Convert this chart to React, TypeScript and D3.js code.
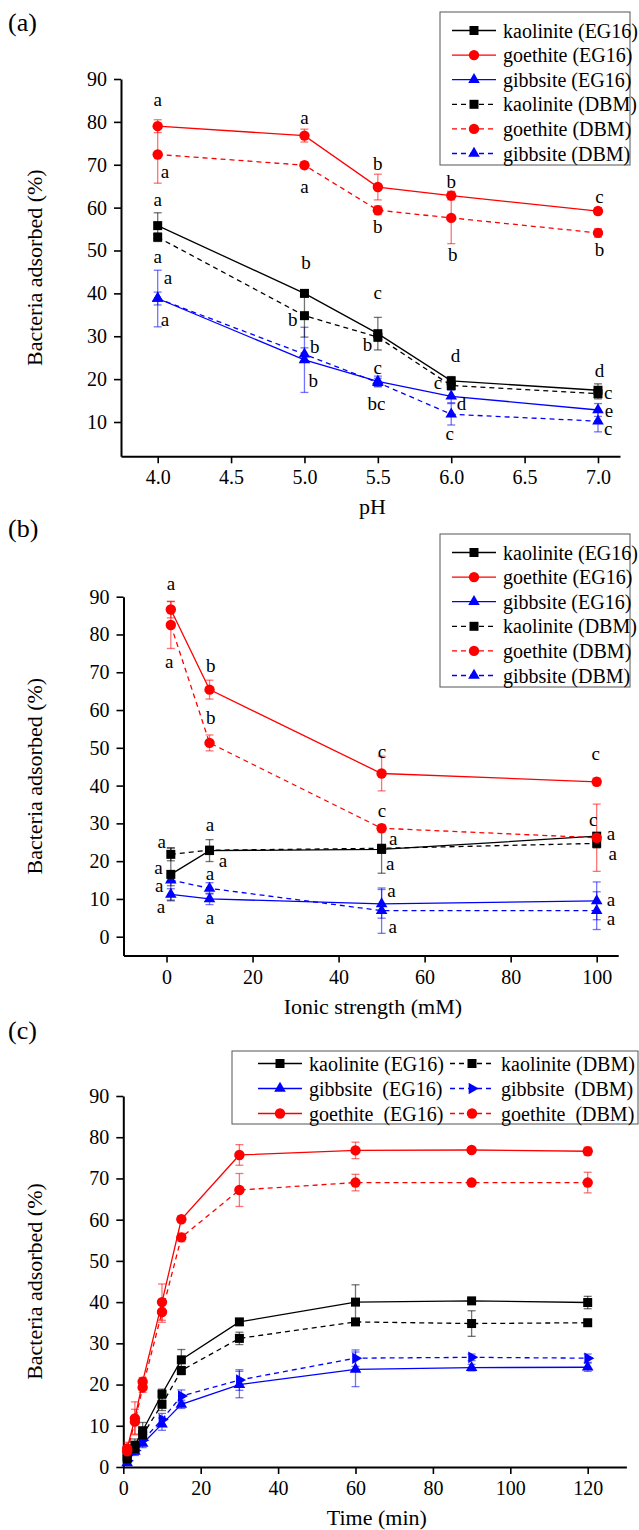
import React, { useEffect, useRef } from "react";
import * as d3 from "d3";

// ---------- panel (a): effect of pH ----------
const phLevels = [4.0, 5.0, 5.5, 6.0, 7.0];
const phTicks = [4.0, 4.5, 5.0, 5.5, 6.0, 6.5, 7.0];
const phKaoEG = [55.8, 40.0, 30.6, 19.6, 17.4];
const phKaoEGErr = [3.0, 0.8, 3.8, 1.0, 1.5];
const phGoeEG = [79.0, 76.8, 64.8, 62.8, 59.2];
const phGoeEGErr = [1.5, 1.5, 3.0, 1.0, 0.8];
const phGibEG = [38.8, 24.5, 19.5, 16.0, 12.8];
const phGibEGErr = [6.6, 7.6, 1.2, 1.5, 1.5];
const phKaoDBM = [53.1, 34.8, 29.8, 18.5, 16.6];
const phKaoDBMErr = [1.0, 5.0, 1.0, 1.0, 1.2];
const phGoeDBM = [72.4, 69.9, 59.4, 57.6, 54.1];
const phGoeDBMErr = [6.7, 0.8, 1.0, 6.0, 1.0];
const phGibDBM = [38.8, 25.8, 19.2, 11.8, 10.2];
const phGibDBMErr = [1.5, 1.5, 1.0, 2.5, 2.5];
const phLetters: [number, number, string][] = [
  [4.0, 85.3, "a"], [5.0, 81.1, "a"], [5.5, 70.4, "b"], [6.0, 66.2, "b"], [7.01, 62.5, "c"],
  [4.05, 68.5, "a"], [5.0, 65.0, "a"], [5.5, 55.7, "b"], [6.01, 49.0, "b"], [7.01, 50.3, "b"],
  [4.0, 61.8, "a"], [4.0, 48.7, "a"], [4.07, 43.8, "a"], [4.05, 33.8, "a"],
  [5.01, 47.3, "b"], [4.92, 33.8, "b"], [5.07, 27.5, "b"], [5.06, 19.6, "b"],
  [5.5, 40.1, "c"], [5.43, 28.0, "b"], [5.5, 22.8, "c"], [5.49, 14.4, "bc"],
  [6.03, 25.6, "d"], [5.91, 19.1, "c"], [6.07, 14.4, "d"], [5.99, 7.4, "c"],
  [7.01, 21.9, "d"], [7.07, 16.8, "c"], [7.075, 12.6, "e"], [7.07, 8.4, "c"],
];

// ---------- panel (b): ionic strength ----------
const isLevels = [1, 10, 50, 100];
const isTicks = [0, 20, 40, 60, 80, 100];
const isKaoEG = [16.5, 22.8, 23.1, 26.6];
const isKaoEGErr = [7.0, 2.9, 6.3, 1.0];
const isGoeEG = [86.6, 65.4, 43.2, 41.0];
const isGoeEGErr = [2.2, 2.5, 4.6, 1.0];
const isGibEG = [11.2, 10.0, 8.7, 9.5];
const isGibEGErr = [1.5, 1.5, 3.8, 5.0];
const isKaoDBM = [21.8, 22.9, 23.4, 24.7];
const isKaoDBMErr = [1.7, 1.0, 1.0, 1.2];
const isGoeDBM = [82.5, 51.3, 28.7, 26.2];
const isGoeDBMErr = [6.2, 2.1, 1.0, 8.9];
const isGibDBM = [15.0, 12.8, 6.9, 6.9];
const isGibDBMErr = [1.5, 1.5, 6.0, 5.0];
const isLetters: [number, number, string][] = [
  [1.05, 93.6, "a"], [0.6, 72.9, "a"], [10.3, 71.9, "b"], [10.3, 57.9, "b"],
  [50.1, 48.9, "c"], [99.8, 48.6, "c"], [50.1, 33.3, "c"], [99.2, 31.1, "c"],
  [-1.1, 25.3, "a"], [-1.9, 18.3, "a"], [10.1, 29.8, "a"], [13.1, 20.1, "a"],
  [52.7, 26.0, "a"], [52.0, 19.4, "a"], [103.3, 27.2, "a"], [103.7, 22.1, "a"],
  [-1.7, 13.6, "a"], [-1.3, 7.9, "a"], [10.1, 16.8, "a"], [10.1, 5.1, "a"],
  [52.3, 12.2, "a"], [52.6, 2.6, "a"], [103.3, 9.9, "a"], [103.3, 4.9, "a"],
];

// ---------- panel (c): time ----------
const timeLevels = [1, 3, 5, 10, 15, 30, 60, 90, 120];
const timeTicks = [0, 20, 40, 60, 80, 100, 120];
const tKaoEG = [2.5, 5.3, 8.8, 17.7, 26.0, 35.2, 40.0, 40.3, 39.9];
const tKaoEGErr = [0.5, 1.5, 2.0, 1.2, 2.5, 0.8, 4.2, 0.5, 1.5];
const tGibEG = [1.0, 3.8, 5.7, 10.4, 15.2, 20.0, 23.7, 24.1, 24.2];
const tGibEGErr = [0.5, 1.0, 1.0, 1.5, 1.0, 3.2, 4.2, 0.8, 1.0];
const tGoeEG = [4.5, 11.8, 20.7, 40.0, 60.1, 75.7, 76.8, 76.9, 76.6];
const tGoeEGErr = [1.5, 4.0, 1.0, 4.4, 0.8, 2.5, 2.0, 0.5, 1.0];
const tKaoDBM = [2.0, 4.5, 7.8, 15.2, 23.4, 31.2, 35.2, 34.8, 35.0];
const tKaoDBMErr = [0.5, 1.0, 1.0, 1.5, 1.0, 1.5, 0.8, 3.1, 0.5];
const tGibDBM = [1.5, 4.0, 6.5, 11.5, 17.2, 21.1, 26.4, 26.6, 26.4];
const tGibDBMErr = [0.5, 1.0, 1.0, 1.5, 1.5, 2.5, 2.0, 0.8, 1.0];
const tGoeDBM = [3.8, 11.0, 19.3, 37.6, 55.7, 67.2, 69.0, 69.0, 69.0];
const tGoeDBMErr = [1.0, 3.0, 1.2, 2.5, 1.0, 4.0, 2.0, 0.5, 2.5];

const yTicks = [0, 10, 20, 30, 40, 50, 60, 70, 80, 90];

const FONT = "'Liberation Serif', 'Times New Roman', serif";
const BLACK = "#000000";
const RED = "#ff0000";
const BLUE = "#0000ff";

const mk = (name, color, dashed, marker, values, errors) => ({ name, color, dashed, marker, values, errors });

const drawMarker = (sel, marker, color, cx, cy) => {
  let type = d3.symbolSquare, size = 81, rot = 0;
  if (marker === "circle") { type = d3.symbolCircle; size = 85; }
  if (marker === "tri") { type = d3.symbolTriangle; size = 58; }
  if (marker === "triR") { type = d3.symbolTriangle; size = 58; rot = 90; }
  sel.append("path")
    .attr("d", d3.symbol().type(type).size(size)())
    .attr("transform", `translate(${cx},${cy}) rotate(${rot})`)
    .attr("fill", color);
};

const drawPanel = (svg, cfg) => {
  const x = d3.scaleLinear().domain(cfg.xDomain).range(cfg.xRange);
  const y = d3.scaleLinear().domain(cfg.yDomain).range(cfg.yRange);
  const g = svg.append("g");

  const xa = g.append("g")
    .attr("transform", `translate(0,${cfg.yRange[0]})`)
    .call(d3.axisBottom(x).tickValues(cfg.xTicks).tickSize(7).tickSizeOuter(0).tickPadding(7).tickFormat(cfg.xFormat));
  const ya = g.append("g")
    .attr("transform", `translate(${cfg.xRange[0]},0)`)
    .call(d3.axisLeft(y).tickValues(cfg.yTicks).tickSize(7).tickSizeOuter(0).tickPadding(7).tickFormat(d3.format("d")));
  [xa, ya].forEach(a => {
    a.select(".domain").attr("stroke-width", 2).attr("stroke", "#000");
    a.selectAll(".tick line").attr("stroke-width", 1.6).attr("stroke", "#000");
    a.selectAll(".tick text").style("font-family", FONT).style("font-size", "20px").attr("fill", "#000");
  });

  // axis titles
  g.append("text")
    .attr("x", (cfg.xRange[0] + cfg.xRange[1]) / 2 + 2)
    .attr("y", cfg.yRange[0] + 58)
    .attr("text-anchor", "middle")
    .style("font-family", FONT).style("font-size", "22px")
    .text(cfg.xTitle);
  g.append("text")
    .attr("transform", `translate(42,${(cfg.yRange[0] + cfg.yRange[1]) / 2}) rotate(-90)`)
    .attr("text-anchor", "middle")
    .style("font-family", FONT).style("font-size", "22px")
    .text("Bacteria adsorbed (%)");
  g.append("text")
    .attr("x", 8).attr("y", cfg.labelY)
    .style("font-family", FONT).style("font-size", "26px")
    .text(cfg.label);

  // error bars
  cfg.series.forEach(s => {
    s.values.forEach((v, i) => {
      const cx = x(cfg.levels[i]);
      const y0 = y(v - s.errors[i]), y1 = y(v + s.errors[i]);
      const eb = g.append("g").attr("stroke", s.color).attr("stroke-opacity", 0.55).attr("stroke-width", 1.3);
      eb.append("line").attr("x1", cx).attr("x2", cx).attr("y1", y0).attr("y2", y1);
      eb.append("line").attr("x1", cx - 4).attr("x2", cx + 4).attr("y1", y0).attr("y2", y0);
      eb.append("line").attr("x1", cx - 4).attr("x2", cx + 4).attr("y1", y1).attr("y2", y1);
    });
  });

  // lines
  const line = d3.line().x(d => x(d[0])).y(d => y(d[1]));
  cfg.series.forEach(s => {
    g.append("path")
      .datum(s.values.map((v, i) => [cfg.levels[i], v]))
      .attr("d", line)
      .attr("fill", "none")
      .attr("stroke", s.color)
      .attr("stroke-width", 1.3)
      .attr("stroke-dasharray", s.dashed ? "5,4" : null);
  });

  // markers
  cfg.series.forEach(s => {
    s.values.forEach((v, i) => drawMarker(g, s.marker, s.color, x(cfg.levels[i]), y(v)));
  });

  // significance letters
  (cfg.letters || []).forEach(([lx, ly, t]) => {
    g.append("text")
      .attr("x", x(lx)).attr("y", y(ly))
      .attr("text-anchor", "middle")
      .attr("dominant-baseline", "central")
      .style("font-family", FONT).style("font-size", "19px")
      .text(t);
  });

  // legend
  const lg = cfg.legend;
  g.append("rect")
    .attr("x", lg.x).attr("y", lg.y).attr("width", lg.w).attr("height", lg.h)
    .attr("fill", "#fff").attr("stroke", "#555").attr("stroke-width", 1);
  lg.items.forEach((it, k) => {
    const s = it.s;
    const col = lg.cols ? k % lg.cols : 0;
    const row = lg.cols ? Math.floor(k / lg.cols) : k;
    const lx = lg.lineX[col];
    const ly = lg.rowY + row * lg.rowStep;
    g.append("line")
      .attr("x1", lx).attr("x2", lx + 44).attr("y1", ly).attr("y2", ly)
      .attr("stroke", s.color).attr("stroke-width", 1.3)
      .attr("stroke-dasharray", s.dashed ? "5,4" : null);
    drawMarker(g, s.marker, s.color, lx + 22, ly);
    g.append("text")
      .attr("x", lx + 51).attr("y", ly)
      .attr("dominant-baseline", "central")
      .style("font-family", FONT).style("font-size", "20px")
      .style("white-space", "pre")
      .text(it.label);
  });
};

const App = () => {
  const ref = useRef(null);

  useEffect(() => {
    const svg = d3.select(ref.current);
    svg.selectAll("*").remove();

    const aKao = mk("kaolinite (EG16)", BLACK, false, "square", phKaoEG, phKaoEGErr);
    const aGoe = mk("goethite (EG16)", RED, false, "circle", phGoeEG, phGoeEGErr);
    const aGib = mk("gibbsite (EG16)", BLUE, false, "tri", phGibEG, phGibEGErr);
    const aKaoD = mk("kaolinite (DBM)", BLACK, true, "square", phKaoDBM, phKaoDBMErr);
    const aGoeD = mk("goethite (DBM)", RED, true, "circle", phGoeDBM, phGoeDBMErr);
    const aGibD = mk("gibbsite (DBM)", BLUE, true, "tri", phGibDBM, phGibDBMErr);
    drawPanel(svg, {
      label: "(a)", labelY: 31,
      levels: phLevels, xDomain: [3.75, 7.15], xRange: [121, 620],
      yDomain: [2, 90], yRange: [456.3, 79],
      xTicks: phTicks, yTicks: yTicks.slice(1), xFormat: d3.format(".1f"),
      xTitle: "pH",
      series: [aGibD, aGib, aKaoD, aKao, aGoeD, aGoe],
      letters: phLetters,
      legend: {
        x: 440, y: 12, w: 190, h: 153, rowY: 30.5, rowStep: 24.6, lineX: [452],
        items: [aKao, aGoe, aGib, aKaoD, aGoeD, aGibD].map(s => ({ s, label: s.name })),
      },
    });

    const bKao = mk("kaolinite (EG16)", BLACK, false, "square", isKaoEG, isKaoEGErr);
    const bGoe = mk("goethite (EG16)", RED, false, "circle", isGoeEG, isGoeEGErr);
    const bGib = mk("gibbsite (EG16)", BLUE, false, "tri", isGibEG, isGibEGErr);
    const bKaoD = mk("kaolinite (DBM)", BLACK, true, "square", isKaoDBM, isKaoDBMErr);
    const bGoeD = mk("goethite (DBM)", RED, true, "circle", isGoeDBM, isGoeDBMErr);
    const bGibD = mk("gibbsite (DBM)", BLUE, true, "tri", isGibDBM, isGibDBMErr);
    drawPanel(svg, {
      label: "(b)", labelY: 537,
      levels: isLevels, xDomain: [-10, 105], xRange: [123.5, 618.2],
      yDomain: [-5, 90], yRange: [955.6, 596.7],
      xTicks: isTicks, yTicks: yTicks, xFormat: d3.format("d"),
      xTitle: "Ionic strength (mM)",
      series: [bGibD, bGib, bKaoD, bKao, bGoeD, bGoe],
      letters: isLetters,
      legend: {
        x: 440, y: 534, w: 190, h: 153, rowY: 552.5, rowStep: 24.6, lineX: [452],
        items: [bKao, bGoe, bGib, bKaoD, bGoeD, bGibD].map(s => ({ s, label: s.name })),
      },
    });

    const cKao = mk("kaolinite (EG16)", BLACK, false, "square", tKaoEG, tKaoEGErr);
    const cGib = mk("gibbsite (EG16)", BLUE, false, "tri", tGibEG, tGibEGErr);
    const cGoe = mk("goethite (EG16)", RED, false, "circle", tGoeEG, tGoeEGErr);
    const cKaoD = mk("kaolinite (DBM)", BLACK, true, "square", tKaoDBM, tKaoDBMErr);
    const cGibD = mk("gibbsite (DBM)", BLUE, true, "triR", tGibDBM, tGibDBMErr);
    const cGoeD = mk("goethite (DBM)", RED, true, "circle", tGoeDBM, tGoeDBMErr);
    drawPanel(svg, {
      label: "(c)", labelY: 1039,
      levels: timeLevels, xDomain: [0, 130], xRange: [123.3, 626.4],
      yDomain: [0, 90], yRange: [1467, 1096],
      xTicks: timeTicks, yTicks: yTicks, xFormat: d3.format("d"),
      xTitle: "Time (min)",
      series: [cGibD, cGib, cKaoD, cKao, cGoeD, cGoe],
      letters: [],
      legend: {
        x: 232, y: 1051, w: 406, h: 73, rowY: 1063.5, rowStep: 25, lineX: [258, 450], cols: 2,
        items: [
          { s: cKao, label: "kaolinite (EG16)" }, { s: cKaoD, label: "kaolinite (DBM)" },
          { s: cGib, label: "gibbsite  (EG16)" }, { s: cGibD, label: "gibbsite  (DBM)" },
          { s: cGoe, label: "goethite  (EG16)" }, { s: cGoeD, label: "goethite  (DBM)" },
        ],
      },
    });
  }, []);

  return (
    <svg
      ref={ref}
      width={639}
      height={1530}
      style={{ position: "absolute", left: 0, top: 0, background: "#fff" }}
    />
  );
};

export default App;
